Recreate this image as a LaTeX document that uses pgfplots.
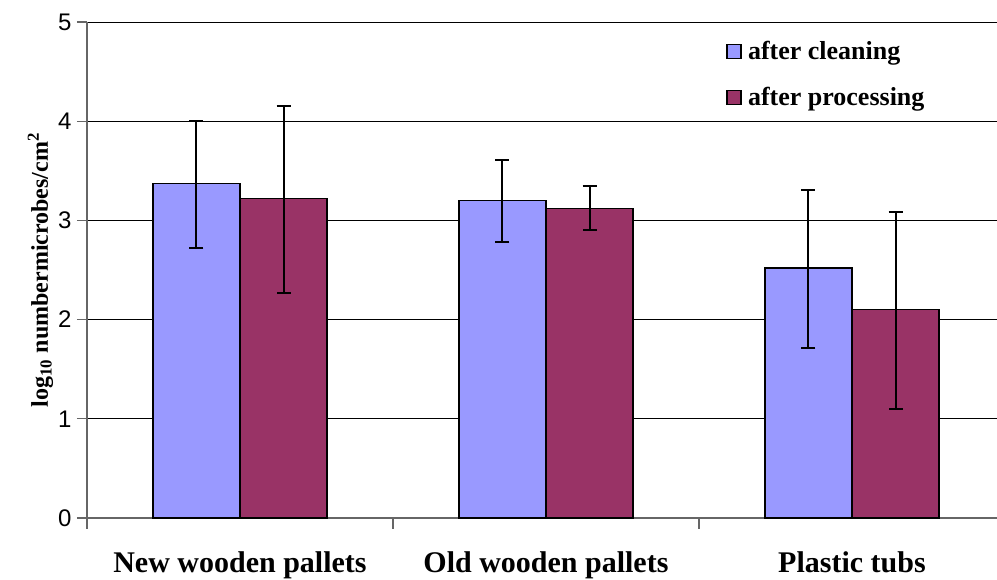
\documentclass[border=0pt]{standalone}
\usepackage{pgfplots}
\pgfplotsset{compat=1.18}
\usepackage{fontspec}
\setmainfont{Liberation Serif}
\newfontfamily\arialfont{Liberation Sans}
\definecolor{cclean}{HTML}{9999FF}
\definecolor{cproc}{HTML}{993366}
\begin{document}
\begin{tikzpicture}
\begin{axis}[
  scale only axis,
  width=910pt, height=496pt,
  ymin=0, ymax=5,
  xmin=-0.5, xmax=2.474,
  ybar=0pt, bar width=0.285,
  axis lines=left,
  axis line style={-, black!60, line width=1.4pt},
  ytick={0,1,2,3,4,5},
  ymajorgrids,
  grid style={black, line width=0.9pt},
  xtick={0,1,2},
  xticklabels={New wooden pallets, Old wooden pallets, Plastic tubs},
  minor xtick={-0.5,0.5,1.5},
  tick align=outside,
  major x tick style={draw=none},
  minor x tick style={black!60, line width=1.2pt},
  minor tick length=11pt,
  major tick length=10pt,
  y tick style={black!60, line width=1.2pt},
  yticklabel style={font=\arialfont\fontsize{24}{26}\selectfont, xshift=-2pt},
  /pgf/number format/assume math mode=true,
  xticklabel style={font=\bfseries\fontsize{30}{32}\selectfont, yshift=-20pt},
  ylabel={log\textsubscript{10} numbermicrobes/cm\textsuperscript{2}},
  ylabel style={font=\bfseries\fontsize{24}{26}\selectfont, yshift=-2pt},
  legend style={draw=none, fill=none, at={(rel axis cs:0.699,0.969)}, anchor=north west,
    font=\bfseries\fontsize{26}{28}\selectfont, row sep=22pt,
    legend cell align=left},
  legend image code/.code={\draw[#1, draw=black, line width=1.4pt] (0pt,-7pt) rectangle (14pt,7pt); \path[draw=none, fill=none] (0pt,0pt) -- (19pt,0pt);},
  clip=false,
]
\addplot[fill=cclean, draw=black, line width=1.6pt,
  error bars/y dir=both, error bars/y explicit,
  error bars/error bar style={solid, black, line width=2pt},
  error bars/error mark options={rotate=90, mark size=7pt, black, line width=2pt}]
  coordinates {
    (0,3.37) -= (0,0.65) += (0,0.63)
    (1,3.20) -= (0,0.42) += (0,0.41)
    (2,2.52) -= (0,0.81) += (0,0.79)
  };
\addplot[fill=cproc, draw=black, line width=1.6pt,
  error bars/y dir=both, error bars/y explicit,
  error bars/error bar style={solid, black, line width=2pt},
  error bars/error mark options={rotate=90, mark size=7pt, black, line width=2pt}]
  coordinates {
    (0,3.22) -= (0,0.95) += (0,0.93)
    (1,3.12) -= (0,0.22) += (0,0.23)
    (2,2.10) -= (0,1.00) += (0,0.98)
  };
\legend{after cleaning, after processing}
\coordinate (A) at (rel axis cs:0,0);
\coordinate (B) at (rel axis cs:1,1);
\end{axis}
\pgfresetboundingbox
\path[use as bounding box] ([xshift=-87pt,yshift=-62pt]A) rectangle ([yshift=22pt]B);
\end{tikzpicture}
\end{document}
